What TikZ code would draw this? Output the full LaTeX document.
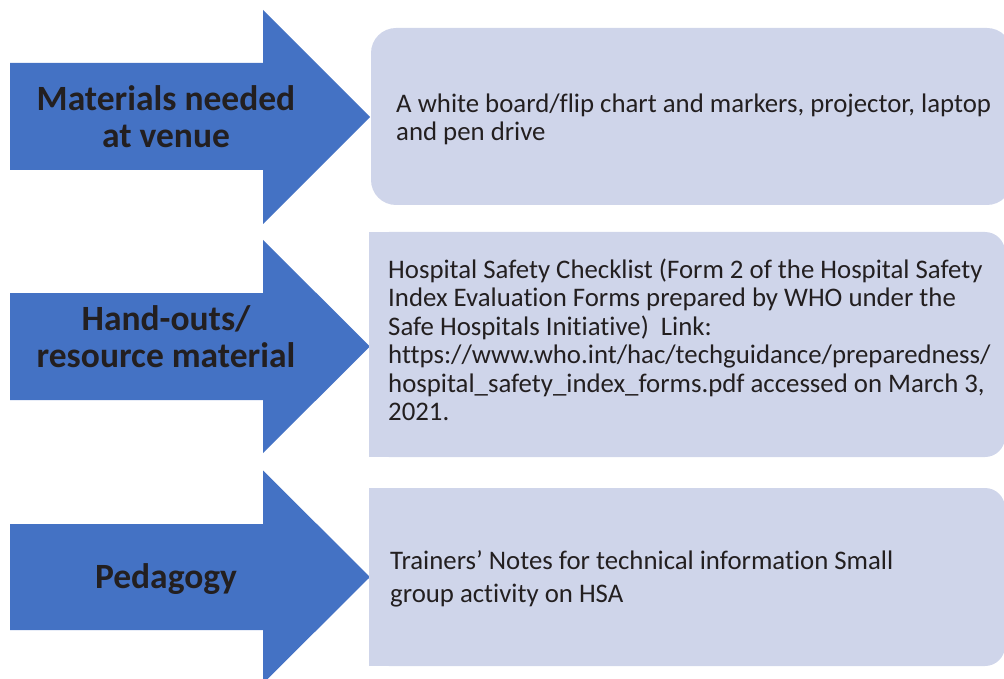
\documentclass[tikz,border=0pt]{standalone}
\usepackage{fontspec}
\setmainfont[RawFeature=-liga]{Carlito}
\definecolor{arrowblue}{HTML}{4472C4}
\definecolor{boxfill}{HTML}{CFD5EA}
\definecolor{ink}{HTML}{231F20}
\begin{document}
\begin{tikzpicture}[x=1pt,y=-1pt,
  bigarrow/.style={fill=arrowblue},
  panel/.style={fill=boxfill},
  labeltext/.style={font=\fontsize{35.5}{37}\selectfont\bfseries, text=ink, align=center, inner sep=0pt},
  bodytext/.style={font=\fontsize{26.8}{28.5}\selectfont, text=ink, align=left, inner sep=0pt, anchor=west}]
\useasboundingbox (0,0) rectangle (1004,679);
\clip (0,0) rectangle (1004,679);
% arrows
\fill[bigarrow] (10,63) -- (263,63) -- (263,10) -- (370,117) -- (263,224) -- (263,170) -- (10,170) -- cycle;
\fill[bigarrow] (10,293) -- (263,293) -- (263,240) -- (370,346.5) -- (263,453) -- (263,400) -- (10,400) -- cycle;
\fill[bigarrow] (10,524) -- (263,524) -- (263,470.5) -- (370,577) -- (263,683.5) -- (263,630) -- (10,630) -- cycle;
% panels
\fill[panel, rounded corners=25pt] (371,28) rectangle (1012,205);
\fill[panel, rounded corners=20pt] (369,232) rectangle (1005,457);
\fill[panel] (369,232) rectangle (700,457);
\fill[panel, rounded corners=20pt] (369,488) rectangle (1005,666);
\fill[panel] (369,488) rectangle (700,666);
% labels
\node[labeltext] (l1) at (166,116.5) {Materials needed\\at venue};
\node[labeltext] (l2) at (166,336.5) {Hand-outs/\\resource material};
\node[labeltext] (l3) at (166,579) {Pedagogy};
% texts
\node[bodytext, font=\fontsize{26.8}{28}\selectfont] (t1) at (396,119) {A white board/flip chart and markers, projector, laptop\\and pen drive};
\node[bodytext] (t2) at (388,340) {Hospital Safety Checklist (Form 2 of the Hospital Safety\\Index Evaluation Forms prepared by WHO under the\\Safe Hospitals Initiative)\ \ Link:\\https://www.who.int/hac/techguidance/preparedness/\\hospital\_safety\_index\_forms.pdf accessed on March 3,\\2021.};
\node[bodytext, font=\fontsize{26.8}{33}\selectfont] (t3) at (390,579) {Trainers’ Notes for technical information Small\\group activity on HSA};
\end{tikzpicture}
\end{document}
